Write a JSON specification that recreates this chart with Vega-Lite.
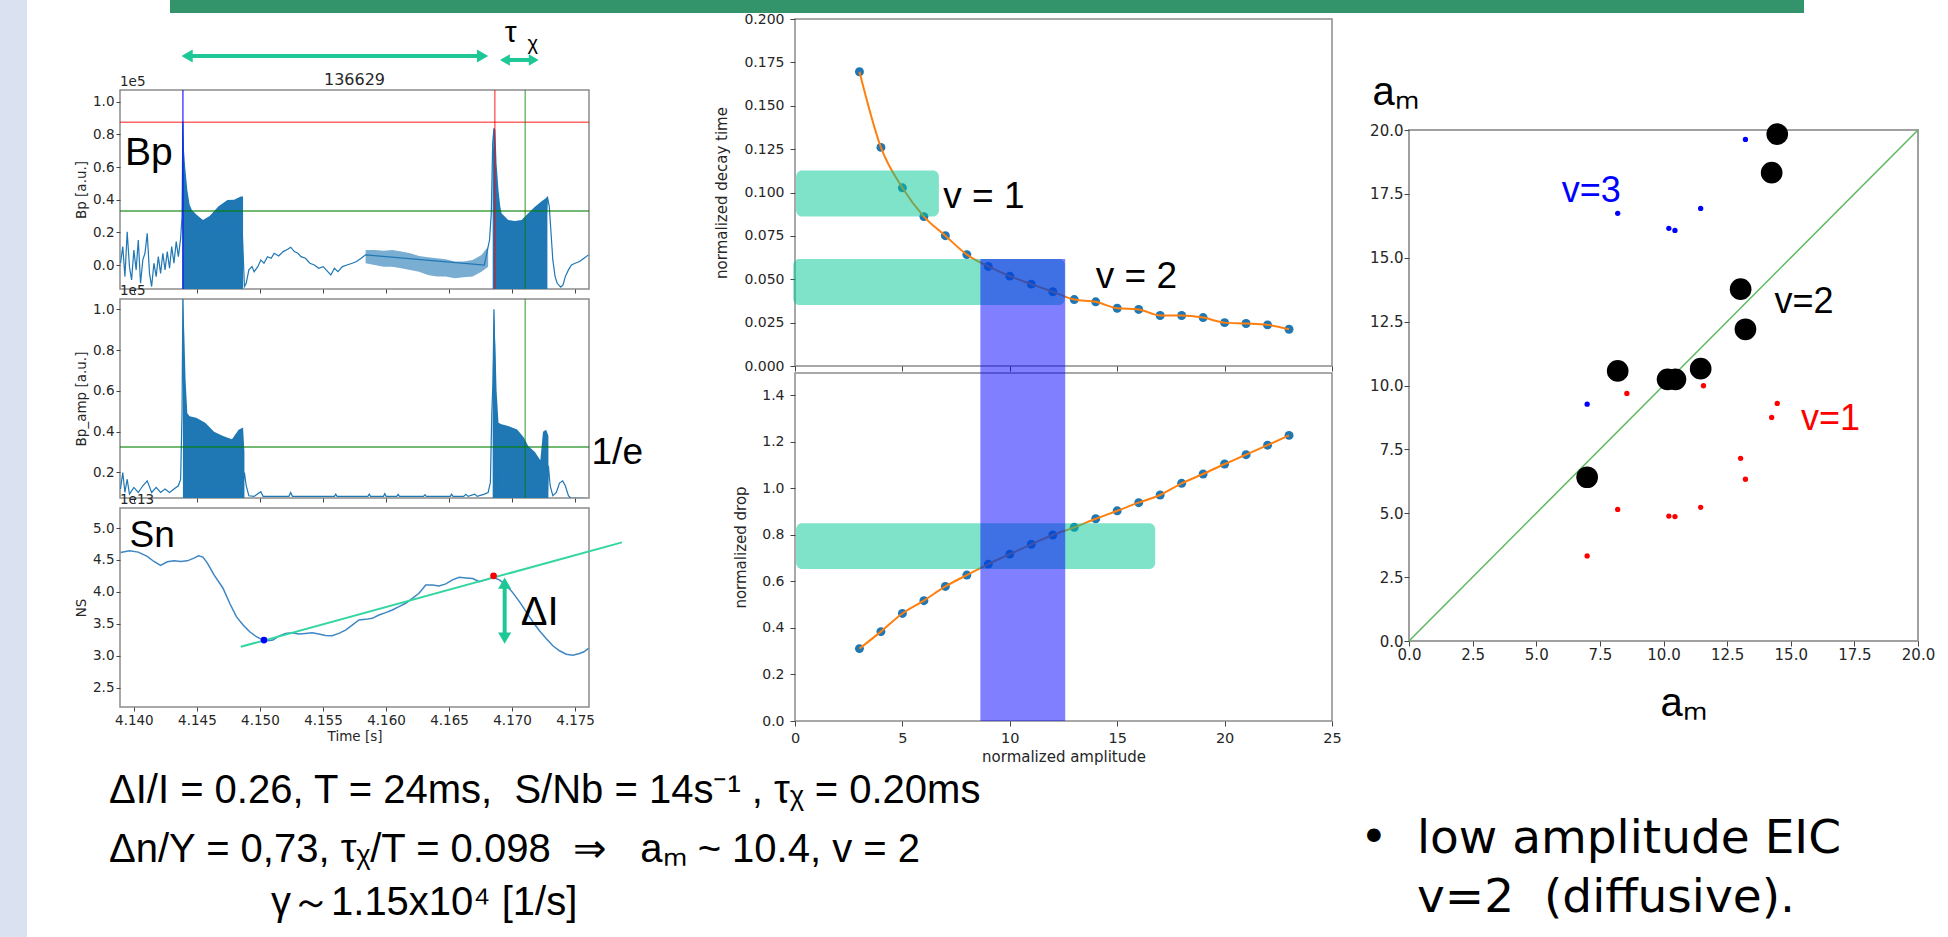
{
"$schema": "https://vega.github.io/schema/vega-lite/v6.json",
"padding": 0,
"background": "#ffffff",
"bounds": "flush",
"spacing": 0,
"config": {
  "view": {"stroke": null},
  "font": "DejaVu Sans",
  "axis": {"grid": false, "domain": false, "labelOverlap": false, "labelFlush": false, "labelFont": "DejaVu Sans", "titleFont": "DejaVu Sans", "labelColor": "#262626", "titleColor": "#262626", "tickColor": "#444444", "titleFontWeight": "normal", "labelFontSize": 13.5, "titleFontSize": 13.5, "tickSize": 4, "labelPadding": 2, "titlePadding": 4}
},
"datasets": {
  "bp_line": [
    {"t":4.13894,"v":0.011},{"t":4.13912,"v":0.113},{"t":4.13929,"v":-0.071},{"t":4.13947,"v":0.204},{"t":4.13965,"v":-0.010},{"t":4.13982,"v":-0.091},{"t":4.14000,"v":0.092},{"t":4.14018,"v":-0.030},{"t":4.14035,"v":0.153},{"t":4.14053,"v":-0.112},{"t":4.14071,"v":0.031},{"t":4.14088,"v":0.072},{"t":4.14106,"v":0.194},{"t":4.14124,"v":-0.051},{"t":4.14141,"v":-0.132},{"t":4.14159,"v":0.011},{"t":4.14177,"v":-0.071},{"t":4.14194,"v":0.051},{"t":4.14212,"v":-0.051},{"t":4.14230,"v":0.072},{"t":4.14247,"v":-0.030},{"t":4.14265,"v":0.082},{"t":4.14283,"v":-0.020},{"t":4.14300,"v":0.113},{"t":4.14318,"v":0.011},{"t":4.14336,"v":0.143},{"t":4.14353,"v":0.051},{"t":4.14371,"v":0.164},{"t":4.14382,"v":0.296},{"t":4.14389,"v":0.878},{"t":4.14400,"v":0.2},{"t":4.14860,"v":0.2},
    {"t":4.14877,"v":-0.132},{"t":4.14891,"v":-0.112},{"t":4.14912,"v":-0.030},{"t":4.14937,"v":-0.010},{"t":4.14954,"v":-0.041},{"t":4.14983,"v":-0.010},{"t":4.15007,"v":0.031},{"t":4.15032,"v":0.011},{"t":4.15060,"v":0.051},{"t":4.15089,"v":0.041},{"t":4.15113,"v":0.072},{"t":4.15149,"v":0.055},{"t":4.15184,"v":0.082},{"t":4.15220,"v":0.096},{"t":4.15244,"v":0.109},{"t":4.15273,"v":0.082},{"t":4.15301,"v":0.072},{"t":4.15326,"v":0.051},{"t":4.15361,"v":0.041},{"t":4.15396,"v":0.011},{"t":4.15432,"v":0.000},{"t":4.15467,"v":-0.020},{"t":4.15502,"v":-0.010},{"t":4.15538,"v":-0.041},{"t":4.15562,"v":-0.061},{"t":4.15591,"v":-0.020},{"t":4.15619,"v":-0.041},{"t":4.15654,"v":-0.010},{"t":4.15690,"v":0.000},{"t":4.15732,"v":0.011},{"t":4.15767,"v":0.021},{"t":4.15803,"v":0.041},{"t":4.15838,"v":0.062},{"t":4.16780,"v":0.0},
    {"t":4.16821,"v":0.153},{"t":4.16835,"v":0.317},{"t":4.16846,"v":0.745},{"t":4.16856,"v":0.837},{"t":4.16880,"v":0.2},{"t":4.17265,"v":0.2},
    {"t":4.17280,"v":0.419},{"t":4.17295,"v":0.358},{"t":4.17309,"v":0.194},{"t":4.17323,"v":0.031},{"t":4.17341,"v":-0.071},{"t":4.17358,"v":-0.112},{"t":4.17386,"v":-0.136},{"t":4.17404,"v":-0.122},{"t":4.17422,"v":-0.071},{"t":4.17447,"v":-0.030},{"t":4.17471,"v":0.000},{"t":4.17500,"v":0.011},{"t":4.17535,"v":0.021},{"t":4.17570,"v":0.041},{"t":4.17606,"v":0.062}
  ],
  "bp_band": [
    {"seg":1,"t":4.14385,"v":0.878,"v2":-0.3},{"seg":1,"t":4.14396,"v":0.72,"v2":-0.3},{"seg":1,"t":4.14407,"v":0.60,"v2":-0.3},{"seg":1,"t":4.14424,"v":0.46,"v2":-0.3},{"seg":1,"t":4.14442,"v":0.37,"v2":-0.3},{"seg":1,"t":4.14460,"v":0.337,"v2":-0.3},{"seg":1,"t":4.14495,"v":0.31,"v2":-0.3},{"seg":1,"t":4.14548,"v":0.276,"v2":-0.3},{"seg":1,"t":4.14601,"v":0.30,"v2":-0.3},{"seg":1,"t":4.14672,"v":0.36,"v2":-0.3},{"seg":1,"t":4.14742,"v":0.398,"v2":-0.3},{"seg":1,"t":4.14795,"v":0.40,"v2":-0.3},{"seg":1,"t":4.14848,"v":0.419,"v2":-0.3},{"seg":1,"t":4.14866,"v":0.42,"v2":-0.3},
    {"seg":2,"t":4.15838,"v":0.092,"v2":0.011},{"seg":2,"t":4.15909,"v":0.092,"v2":0.000},{"seg":2,"t":4.15980,"v":0.088,"v2":-0.010},{"seg":2,"t":4.16050,"v":0.092,"v2":-0.010},{"seg":2,"t":4.16121,"v":0.082,"v2":-0.020},{"seg":2,"t":4.16192,"v":0.072,"v2":-0.030},{"seg":2,"t":4.16262,"v":0.055,"v2":-0.041},{"seg":2,"t":4.16333,"v":0.047,"v2":-0.061},{"seg":2,"t":4.16404,"v":0.041,"v2":-0.071},{"seg":2,"t":4.16474,"v":0.035,"v2":-0.071},{"seg":2,"t":4.16545,"v":0.021,"v2":-0.081},{"seg":2,"t":4.16616,"v":0.021,"v2":-0.075},{"seg":2,"t":4.16687,"v":0.031,"v2":-0.071},{"seg":2,"t":4.16757,"v":0.062,"v2":-0.041},{"seg":2,"t":4.16810,"v":0.113,"v2":-0.010},
    {"seg":3,"t":4.16846,"v":0.65,"v2":-0.3},{"seg":3,"t":4.16856,"v":0.84,"v2":-0.3},{"seg":3,"t":4.16867,"v":0.83,"v2":-0.3},{"seg":3,"t":4.16877,"v":0.62,"v2":-0.3},{"seg":3,"t":4.16892,"v":0.46,"v2":-0.3},{"seg":3,"t":4.16906,"v":0.36,"v2":-0.3},{"seg":3,"t":4.16916,"v":0.317,"v2":-0.3},{"seg":3,"t":4.16969,"v":0.276,"v2":-0.3},{"seg":3,"t":4.17022,"v":0.27,"v2":-0.3},{"seg":3,"t":4.17075,"v":0.276,"v2":-0.3},{"seg":3,"t":4.17128,"v":0.317,"v2":-0.3},{"seg":3,"t":4.17181,"v":0.357,"v2":-0.3},{"seg":3,"t":4.17234,"v":0.39,"v2":-0.3},{"seg":3,"t":4.17270,"v":0.41,"v2":-0.3},{"seg":3,"t":4.17280,"v":0.42,"v2":-0.3}
  ],
  "amp_line": [
    {"t":4.13894,"v":0.119},{"t":4.13912,"v":0.200},{"t":4.13929,"v":0.102},{"t":4.13947,"v":0.167},{"t":4.13965,"v":0.094},{"t":4.14000,"v":0.127},{"t":4.14035,"v":0.102},{"t":4.14071,"v":0.135},{"t":4.14106,"v":0.159},{"t":4.14141,"v":0.102},{"t":4.14177,"v":0.127},{"t":4.14212,"v":0.102},{"t":4.14247,"v":0.119},{"t":4.14283,"v":0.102},{"t":4.14318,"v":0.119},{"t":4.14353,"v":0.135},{"t":4.14371,"v":0.167},{"t":4.14382,"v":0.493},{"t":4.14389,"v":1.08},{"t":4.14400,"v":0.1},{"t":4.14860,"v":0.1},
    {"t":4.14877,"v":0.200},{"t":4.14891,"v":0.135},{"t":4.14912,"v":0.086},{"t":4.14954,"v":0.083},{"t":4.15007,"v":0.106},{"t":4.15025,"v":0.083},{"t":4.15230,"v":0.083},{"t":4.15244,"v":0.102},{"t":4.15258,"v":0.083},{"t":4.15591,"v":0.083},{"t":4.15601,"v":0.094},{"t":4.15612,"v":0.083},{"t":4.15856,"v":0.083},{"t":4.15867,"v":0.094},{"t":4.15877,"v":0.083},{"t":4.15980,"v":0.083},{"t":4.15990,"v":0.096},{"t":4.16001,"v":0.083},{"t":4.16086,"v":0.083},{"t":4.16096,"v":0.093},{"t":4.16107,"v":0.083},{"t":4.16298,"v":0.083},{"t":4.16309,"v":0.091},{"t":4.16319,"v":0.083},{"t":4.16510,"v":0.083},{"t":4.16520,"v":0.094},{"t":4.16531,"v":0.083},{"t":4.16616,"v":0.083},{"t":4.16633,"v":0.093},{"t":4.16651,"v":0.083},{"t":4.16704,"v":0.094},{"t":4.16722,"v":0.083},{"t":4.16775,"v":0.093},{"t":4.16810,"v":0.102},{"t":4.16828,"v":0.151},{"t":4.16839,"v":0.493},{"t":4.16849,"v":0.655},{"t":4.16856,"v":1.0},{"t":4.16880,"v":0.1},{"t":4.17280,"v":0.1},
    {"t":4.17288,"v":0.233},{"t":4.17302,"v":0.135},{"t":4.17323,"v":0.086},{"t":4.17351,"v":0.102},{"t":4.17376,"v":0.148},{"t":4.17401,"v":0.159},{"t":4.17422,"v":0.135},{"t":4.17447,"v":0.086},{"t":4.17464,"v":0.075},{"t":4.17606,"v":0.072}
  ],
  "amp_band": [
    {"seg":1,"t":4.14389,"v":1.08,"v2":0},{"seg":1,"t":4.14400,"v":0.88,"v2":0},{"seg":1,"t":4.14410,"v":0.655,"v2":0},{"seg":1,"t":4.14424,"v":0.49,"v2":0},{"seg":1,"t":4.14442,"v":0.475,"v2":0},{"seg":1,"t":4.14495,"v":0.468,"v2":0},{"seg":1,"t":4.14566,"v":0.444,"v2":0},{"seg":1,"t":4.14636,"v":0.40,"v2":0},{"seg":1,"t":4.14707,"v":0.379,"v2":0},{"seg":1,"t":4.14778,"v":0.363,"v2":0},{"seg":1,"t":4.14831,"v":0.41,"v2":0},{"seg":1,"t":4.14866,"v":0.42,"v2":0},{"seg":1,"t":4.14877,"v":0.30,"v2":0},
    {"seg":3,"t":4.16846,"v":0.67,"v2":0},{"seg":3,"t":4.16856,"v":1.0,"v2":0},{"seg":3,"t":4.16867,"v":0.83,"v2":0},{"seg":3,"t":4.16877,"v":0.60,"v2":0},{"seg":3,"t":4.16892,"v":0.444,"v2":0},{"seg":3,"t":4.16916,"v":0.436,"v2":0},{"seg":3,"t":4.16969,"v":0.428,"v2":0},{"seg":3,"t":4.17040,"v":0.411,"v2":0},{"seg":3,"t":4.17093,"v":0.371,"v2":0},{"seg":3,"t":4.17128,"v":0.33,"v2":0},{"seg":3,"t":4.17181,"v":0.30,"v2":0},{"seg":3,"t":4.17224,"v":0.26,"v2":0},{"seg":3,"t":4.17245,"v":0.40,"v2":0},{"seg":3,"t":4.17270,"v":0.41,"v2":0},{"seg":3,"t":4.17288,"v":0.38,"v2":0}
  ],
  "sn": [
    {"t":4.13894,"v":4.617},{"t":4.13965,"v":4.644},{"t":4.14035,"v":4.623},{"t":4.14106,"v":4.555},{"t":4.14159,"v":4.476},{"t":4.14212,"v":4.413},{"t":4.14265,"v":4.471},{"t":4.14318,"v":4.486},{"t":4.14371,"v":4.476},{"t":4.14424,"v":4.486},{"t":4.14477,"v":4.528},{"t":4.14513,"v":4.565},{"t":4.14548,"v":4.544},{"t":4.14583,"v":4.450},{"t":4.14636,"v":4.266},{"t":4.14707,"v":4.057},{"t":4.14760,"v":3.821},{"t":4.14813,"v":3.611},{"t":4.14866,"v":3.480},{"t":4.14919,"v":3.375},{"t":4.14972,"v":3.297},{"t":4.15025,"v":3.244},{"t":4.15060,"v":3.234},{"t":4.15103,"v":3.244},{"t":4.15149,"v":3.307},{"t":4.15202,"v":3.349},{"t":4.15255,"v":3.360},{"t":4.15308,"v":3.339},{"t":4.15361,"v":3.349},{"t":4.15414,"v":3.360},{"t":4.15467,"v":3.339},{"t":4.15520,"v":3.318},{"t":4.15573,"v":3.312},{"t":4.15626,"v":3.349},{"t":4.15679,"v":3.401},{"t":4.15732,"v":3.480},{"t":4.15785,"v":3.559},{"t":4.15838,"v":3.569},{"t":4.15891,"v":3.585},{"t":4.15944,"v":3.637},{"t":4.15997,"v":3.674},{"t":4.16050,"v":3.716},{"t":4.16103,"v":3.768},{"t":4.16156,"v":3.821},{"t":4.16209,"v":3.899},{"t":4.16262,"v":3.978},{"t":4.16315,"v":4.109},{"t":4.16368,"v":4.109},{"t":4.16421,"v":4.093},{"t":4.16474,"v":4.125},{"t":4.16527,"v":4.188},{"t":4.16581,"v":4.230},{"t":4.16634,"v":4.219},{"t":4.16687,"v":4.209},{"t":4.16740,"v":4.161},{"t":4.16793,"v":4.188},{"t":4.16846,"v":4.230},{"t":4.16899,"v":4.188},{"t":4.16952,"v":4.109},{"t":4.17005,"v":3.988},{"t":4.17058,"v":3.847},{"t":4.17111,"v":3.690},{"t":4.17164,"v":3.532},{"t":4.17217,"v":3.391},{"t":4.17270,"v":3.270},{"t":4.17323,"v":3.155},{"t":4.17376,"v":3.077},{"t":4.17429,"v":3.024},{"t":4.17482,"v":3.008},{"t":4.17535,"v":3.035},{"t":4.17570,"v":3.061},{"t":4.17606,"v":3.113}
  ],
  "decay": [
    {"a":3,"d":0.1696},{"a":4,"d":0.126},{"a":5,"d":0.1027},{"a":6,"d":0.0861},{"a":7,"d":0.0751},{"a":8,"d":0.0642},{"a":9,"d":0.0574},{"a":10,"d":0.0518},{"a":11,"d":0.0472},{"a":12,"d":0.0428},{"a":13,"d":0.0383},{"a":14,"d":0.0370},{"a":15,"d":0.0333},{"a":16,"d":0.0326},{"a":17,"d":0.0291},{"a":18,"d":0.0291},{"a":19,"d":0.0279},{"a":20,"d":0.0250},{"a":21,"d":0.0245},{"a":22,"d":0.0237},{"a":23,"d":0.0212}
  ],
  "drop": [
    {"a":3,"d":0.311},{"a":4,"d":0.384},{"a":5,"d":0.462},{"a":6,"d":0.517},{"a":7,"d":0.578},{"a":8,"d":0.627},{"a":9,"d":0.674},{"a":10,"d":0.717},{"a":11,"d":0.759},{"a":12,"d":0.799},{"a":13,"d":0.832},{"a":14,"d":0.869},{"a":15,"d":0.903},{"a":16,"d":0.938},{"a":17,"d":0.971},{"a":18,"d":1.021},{"a":19,"d":1.061},{"a":20,"d":1.104},{"a":21,"d":1.144},{"a":22,"d":1.185},{"a":23,"d":1.227}
  ],
  "scatter": [
    {"x":7.0,"y":6.41,"v":"v=2"},{"x":8.2,"y":10.57,"v":"v=2"},{"x":10.16,"y":10.24,"v":"v=2"},{"x":10.47,"y":10.24,"v":"v=2"},{"x":11.46,"y":10.66,"v":"v=2"},{"x":13.03,"y":13.77,"v":"v=2"},{"x":13.22,"y":12.2,"v":"v=2"},{"x":14.25,"y":18.33,"v":"v=2"},{"x":14.47,"y":19.84,"v":"v=2"},
    {"x":7.0,"y":9.27,"v":"v=3"},{"x":8.2,"y":16.74,"v":"v=3"},{"x":10.21,"y":16.15,"v":"v=3"},{"x":10.45,"y":16.07,"v":"v=3"},{"x":11.46,"y":16.93,"v":"v=3"},{"x":13.22,"y":19.63,"v":"v=3"},
    {"x":7.0,"y":3.33,"v":"v=1"},{"x":8.2,"y":5.15,"v":"v=1"},{"x":8.56,"y":9.69,"v":"v=1"},{"x":10.21,"y":4.89,"v":"v=1"},{"x":10.45,"y":4.87,"v":"v=1"},{"x":11.46,"y":5.23,"v":"v=1"},{"x":11.57,"y":9.99,"v":"v=1"},{"x":13.03,"y":7.15,"v":"v=1"},{"x":13.22,"y":6.33,"v":"v=1"},{"x":14.25,"y":8.75,"v":"v=1"},{"x":14.47,"y":9.3,"v":"v=1"}
  ]
},
"hconcat": [
  {"width": 27, "height": 937, "view": {"fill": "#dae2f2", "stroke": null}, "data": {"values": []}, "mark": "point", "encoding": {}},
  {"spacing": 0, "bounds": "flush", "vconcat": [
    {"spacing": 0, "bounds": "flush", "hconcat": [
      {"width": 143, "height": 13, "data": {"values": []}, "mark": "point", "encoding": {}},
      {"width": 1634, "height": 13, "view": {"fill": "#33936a", "stroke": null}, "data": {"values": []}, "mark": "point", "encoding": {}}
    ]},
    {"width": 1, "height": 13, "data": {"values": []}, "mark": "point", "encoding": {}},
    {"spacing": 0, "bounds": "flush", "hconcat": [
      {"width": 93, "height": 1, "data": {"values": []}, "mark": "point", "encoding": {}},
      {"spacing": 0, "bounds": "flush", "vconcat": [
        {"width": 469, "height": 77, "data": {"values": []}, "mark": "point", "encoding": {}},
        {"width": 469, "height": 199, "view": {"stroke": "#8c8c8c", "strokeWidth": 1.5},
         "layer": [
          {"data": {"name": "bp_band"}, "transform": [{"filter": "datum.seg != 2"}],
           "mark": {"type": "area", "color": "#1f77b4", "clip": true, "opacity": 1},
           "encoding": {
             "x": {"field": "t", "type": "quantitative", "scale": {"domain": [4.1389, 4.1761], "nice": false, "zero": false}, "axis": {"values": [4.14, 4.145, 4.15, 4.155, 4.16, 4.165, 4.17, 4.175], "tickCount": 20, "labels": false, "title": null, "labelOverlap": false}},
             "y": {"field": "v", "type": "quantitative", "scale": {"domain": [-0.147, 1.072], "nice": false, "zero": false}, "axis": {"values": [0, 0.2, 0.4, 0.6, 0.8, 1.0], "tickCount": 20, "format": ".1f", "title": "Bp [a.u.]", "labelOverlap": false}},
             "y2": {"field": "v2"},
             "detail": {"field": "seg"}
           }},
          {"data": {"name": "bp_band"}, "transform": [{"filter": "datum.seg == 2"}],
           "mark": {"type": "area", "color": "#1f77b4", "clip": true, "opacity": 0.6},
           "encoding": {"x": {"field": "t", "type": "quantitative"}, "y": {"field": "v", "type": "quantitative"}, "y2": {"field": "v2"}}},
          {"data": {"name": "bp_line"},
           "mark": {"type": "line", "color": "#1f77b4", "strokeWidth": 1.2, "clip": true},
           "encoding": {"x": {"field": "t", "type": "quantitative"}, "y": {"field": "v", "type": "quantitative"}}},
          {"data": {"values": [{}]}, "mark": {"type": "rule", "color": "#ff0000", "opacity": 0.6, "strokeWidth": 1.5}, "encoding": {"y": {"datum": 0.874}}},
          {"data": {"values": [{}]}, "mark": {"type": "rule", "color": "#008000", "opacity": 0.55, "strokeWidth": 2}, "encoding": {"y": {"datum": 0.331}}},
          {"data": {"values": [{}]}, "mark": {"type": "rule", "color": "#0000ff", "opacity": 0.7, "strokeWidth": 1.5}, "encoding": {"x": {"datum": 4.14389}}},
          {"data": {"values": [{}]}, "mark": {"type": "rule", "color": "#ff0000", "opacity": 0.6, "strokeWidth": 1.5}, "encoding": {"x": {"datum": 4.16863}}},
          {"data": {"values": [{}]}, "mark": {"type": "rule", "color": "#008000", "opacity": 0.55, "strokeWidth": 1.5}, "encoding": {"x": {"datum": 4.17104}}},
          {"data": {"values": [{}]}, "mark": {"type": "text", "text": "Bp", "font": "Liberation Sans", "fontSize": 39, "align": "left", "baseline": "alphabetic", "color": "#000000"}, "encoding": {"x": {"datum": 4.1393}, "y": {"datum": 0.613}}},
          {"data": {"values": [{}]}, "mark": {"type": "text", "text": "1e5", "font": "DejaVu Sans", "fontSize": 13.5, "align": "left", "baseline": "bottom", "dy": -1, "color": "#262626"}, "encoding": {"x": {"datum": 4.1389}, "y": {"datum": 1.072}}},
          {"data": {"values": [{}]}, "mark": {"type": "text", "text": "136629", "font": "DejaVu Sans", "fontSize": 16, "align": "center", "baseline": "bottom", "dy": -2, "color": "#262626"}, "encoding": {"x": {"datum": 4.1575}, "y": {"datum": 1.072}}},
          {"data": {"values": [{}]}, "mark": {"type": "rule", "color": "#1ec896", "strokeWidth": 4}, "encoding": {"x": {"datum": 4.14422}, "x2": {"datum": 4.16766}, "y": {"datum": 1.28}}},
          {"data": {"values": [{}]}, "mark": {"type": "point", "shape": "triangle-left", "filled": true, "opacity": 1, "color": "#1ec896", "size": 170}, "encoding": {"x": {"datum": 4.14422}, "y": {"datum": 1.28}}},
          {"data": {"values": [{}]}, "mark": {"type": "point", "shape": "triangle-right", "filled": true, "opacity": 1, "color": "#1ec896", "size": 170}, "encoding": {"x": {"datum": 4.16766}, "y": {"datum": 1.28}}},
          {"data": {"values": [{}]}, "mark": {"type": "rule", "color": "#1ec896", "strokeWidth": 4}, "encoding": {"x": {"datum": 4.16943}, "x2": {"datum": 4.17172}, "y": {"datum": 1.256}}},
          {"data": {"values": [{}]}, "mark": {"type": "point", "shape": "triangle-left", "filled": true, "opacity": 1, "color": "#1ec896", "size": 130}, "encoding": {"x": {"datum": 4.16943}, "y": {"datum": 1.256}}},
          {"data": {"values": [{}]}, "mark": {"type": "point", "shape": "triangle-right", "filled": true, "opacity": 1, "color": "#1ec896", "size": 130}, "encoding": {"x": {"datum": 4.17172}, "y": {"datum": 1.256}}},
          {"data": {"values": [{}]}, "mark": {"type": "text", "text": "τ", "font": "Liberation Sans", "fontSize": 30, "align": "left", "baseline": "alphabetic", "color": "#000000"}, "encoding": {"x": {"datum": 4.16941}, "y": {"datum": 1.368}}},
          {"data": {"values": [{}]}, "mark": {"type": "text", "text": "χ", "font": "Liberation Sans", "fontSize": 20, "align": "left", "baseline": "alphabetic", "color": "#000000"}, "encoding": {"x": {"datum": 4.17122}, "y": {"datum": 1.317}}}
         ]},
        {"width": 469, "height": 10, "data": {"values": []}, "mark": "point", "encoding": {}},
        {"width": 469, "height": 199, "view": {"stroke": "#8c8c8c", "strokeWidth": 1.5},
         "layer": [
          {"data": {"name": "amp_band"},
           "mark": {"type": "area", "color": "#1f77b4", "clip": true, "opacity": 1},
           "encoding": {
             "x": {"field": "t", "type": "quantitative", "scale": {"domain": [4.1389, 4.1761], "nice": false, "zero": false}, "axis": {"values": [4.14, 4.145, 4.15, 4.155, 4.16, 4.165, 4.17, 4.175], "tickCount": 20, "labels": false, "title": null, "labelOverlap": false}},
             "y": {"field": "v", "type": "quantitative", "scale": {"domain": [0.075, 1.05], "nice": false, "zero": false}, "axis": {"values": [0.2, 0.4, 0.6, 0.8, 1.0], "tickCount": 20, "format": ".1f", "title": "Bp_amp [a.u.]", "labelOverlap": false}},
             "y2": {"field": "v2"},
             "detail": {"field": "seg"}
           }},
          {"data": {"name": "amp_line"},
           "mark": {"type": "line", "color": "#1f77b4", "strokeWidth": 1.2, "clip": true},
           "encoding": {"x": {"field": "t", "type": "quantitative"}, "y": {"field": "v", "type": "quantitative"}}},
          {"data": {"values": [{}]}, "mark": {"type": "rule", "color": "#008000", "opacity": 0.55, "strokeWidth": 2}, "encoding": {"y": {"datum": 0.325}}},
          {"data": {"values": [{}]}, "mark": {"type": "rule", "color": "#008000", "opacity": 0.55, "strokeWidth": 1.5}, "encoding": {"x": {"datum": 4.17104}}},
          {"data": {"values": [{}]}, "mark": {"type": "text", "text": "1e5", "font": "DejaVu Sans", "fontSize": 13.5, "align": "left", "baseline": "bottom", "dy": -1, "color": "#262626"}, "encoding": {"x": {"datum": 4.1389}, "y": {"datum": 1.05}}},
          {"data": {"values": [{}]}, "mark": {"type": "text", "text": "1/e", "font": "Liberation Sans", "fontSize": 37, "align": "left", "baseline": "alphabetic", "color": "#000000"}, "encoding": {"x": {"datum": 4.1763}, "y": {"datum": 0.24}}}
         ]},
        {"width": 469, "height": 10, "data": {"values": []}, "mark": "point", "encoding": {}},
        {"width": 469, "height": 199, "view": {"stroke": "#8c8c8c", "strokeWidth": 1.5},
         "layer": [
          {"data": {"name": "sn"},
           "mark": {"type": "line", "color": "#3f86c4", "strokeWidth": 1.5, "clip": true},
           "encoding": {
             "x": {"field": "t", "type": "quantitative", "scale": {"domain": [4.1389, 4.1761], "nice": false, "zero": false}, "axis": {"values": [4.14, 4.145, 4.15, 4.155, 4.16, 4.165, 4.17, 4.175], "tickCount": 20, "format": ".3f", "title": "Time [s]", "titlePadding": 3, "labelOverlap": false}},
             "y": {"field": "v", "type": "quantitative", "scale": {"domain": [2.196, 5.314], "nice": false, "zero": false}, "axis": {"values": [2.5, 3.0, 3.5, 4.0, 4.5, 5.0], "tickCount": 20, "format": ".1f", "title": "NS", "labelOverlap": false}}
           }},
          {"data": {"values": [{}]}, "mark": {"type": "rule", "color": "#33d6a0", "strokeWidth": 2}, "encoding": {"x": {"datum": 4.14848}, "x2": {"datum": 4.17871}, "y": {"datum": 3.139}, "y2": {"datum": 4.775}}},
          {"data": {"values": [{}]}, "mark": {"type": "point", "filled": true, "opacity": 1, "color": "#0000ff", "size": 45}, "encoding": {"x": {"datum": 4.15032}, "y": {"datum": 3.244}}},
          {"data": {"values": [{}]}, "mark": {"type": "point", "filled": true, "opacity": 1, "color": "#ff0000", "size": 45}, "encoding": {"x": {"datum": 4.16853}, "y": {"datum": 4.251}}},
          {"data": {"values": [{}]}, "mark": {"type": "rule", "color": "#1ec896", "strokeWidth": 4}, "encoding": {"x": {"datum": 4.16941}, "y": {"datum": 3.275}, "y2": {"datum": 4.136}}},
          {"data": {"values": [{}]}, "mark": {"type": "point", "shape": "triangle-up", "filled": true, "opacity": 1, "color": "#1ec896", "size": 170}, "encoding": {"x": {"datum": 4.16941}, "y": {"datum": 4.136}}},
          {"data": {"values": [{}]}, "mark": {"type": "point", "shape": "triangle-down", "filled": true, "opacity": 1, "color": "#1ec896", "size": 170}, "encoding": {"x": {"datum": 4.16941}, "y": {"datum": 3.275}}},
          {"data": {"values": [{}]}, "mark": {"type": "text", "text": "ΔI", "font": "Liberation Sans", "fontSize": 40, "align": "left", "baseline": "alphabetic", "color": "#000000"}, "encoding": {"x": {"datum": 4.17068}, "y": {"datum": 3.48}}},
          {"data": {"values": [{}]}, "mark": {"type": "text", "text": "Sn", "font": "Liberation Sans", "fontSize": 37, "align": "left", "baseline": "alphabetic", "color": "#000000"}, "encoding": {"x": {"datum": 4.13965}, "y": {"datum": 4.71}}},
          {"data": {"values": [{}]}, "mark": {"type": "text", "text": "1e13", "font": "DejaVu Sans", "fontSize": 13.5, "align": "left", "baseline": "bottom", "dy": -1, "color": "#262626"}, "encoding": {"x": {"datum": 4.1389}, "y": {"datum": 5.314}}}
         ]},
        {"width": 469, "height": 230, "data": {"values": [{}]},
         "layer": [
          {"mark": {"type": "text", "text": "ΔI/I = 0.26, T = 24ms,\u00a0\u00a0S/Nb = 14s⁻¹ , τᵪ = 0.20ms", "font": "Liberation Sans", "fontSize": 40, "align": "left", "baseline": "alphabetic", "color": "#000000"},
           "encoding": {"x": {"datum": -0.0235, "scale": {"domain": [0, 1]}, "axis": null}, "y": {"datum": 0.417, "scale": {"domain": [0, 1], "reverse": true}, "axis": null}}},
          {"mark": {"type": "text", "text": "Δn/Y = 0,73, τᵪ/T = 0.098\u00a0\u00a0⇒\u00a0\u00a0\u00a0aₘ ~ 10.4, v = 2", "font": "Liberation Sans", "fontSize": 40, "align": "left", "baseline": "alphabetic", "color": "#000000"},
           "encoding": {"x": {"datum": -0.0235, "scale": {"domain": [0, 1]}, "axis": null}, "y": {"datum": 0.674, "scale": {"domain": [0, 1], "reverse": true}, "axis": null}}},
          {"mark": {"type": "text", "text": "γ～1.15x10⁴ [1/s]", "font": "Liberation Sans", "fontSize": 40, "align": "left", "baseline": "alphabetic", "color": "#000000"},
           "encoding": {"x": {"datum": 0.322, "scale": {"domain": [0, 1]}, "axis": null}, "y": {"datum": 0.904, "scale": {"domain": [0, 1], "reverse": true}, "axis": null}}}
         ]}
      ]},
      {"width": 675, "height": 1, "data": {"values": []}, "mark": "point", "encoding": {}},
      {"spacing": 0, "bounds": "flush", "vconcat": [
        {"width": 537, "height": 6, "data": {"values": []}, "mark": "point", "encoding": {}},
        {"width": 537, "height": 347, "view": {"stroke": "#8c8c8c", "strokeWidth": 1.5},
         "layer": [
          {"data": {"name": "decay"},
           "mark": {"type": "point", "filled": true, "opacity": 1, "color": "#1f77b4", "size": 80},
           "encoding": {
             "x": {"field": "a", "type": "quantitative", "scale": {"domain": [0, 25], "nice": false, "zero": false}, "axis": {"values": [0, 5, 10, 15, 20, 25], "tickCount": 20, "labels": false, "title": null, "tickSize": 5, "labelOverlap": false}},
             "y": {"field": "d", "type": "quantitative", "scale": {"domain": [0, 0.2], "nice": false, "zero": false}, "axis": {"values": [0, 0.025, 0.05, 0.075, 0.1, 0.125, 0.15, 0.175, 0.2], "tickCount": 20, "format": ".3f", "title": "normalized decay time", "labelFontSize": 14, "titleFontSize": 15, "tickSize": 5, "labelPadding": 6, "titlePadding": 14, "labelOverlap": false}}
           }},
          {"data": {"name": "decay"},
           "mark": {"type": "line", "color": "#ff7f0e", "strokeWidth": 2, "interpolate": "monotone"},
           "encoding": {"x": {"field": "a", "type": "quantitative"}, "y": {"field": "d", "type": "quantitative"}}},
          {"data": {"values": [{}]}, "mark": {"type": "rect", "color": "#00c896", "opacity": 0.5, "cornerRadius": 6}, "encoding": {"x": {"datum": 0.05}, "x2": {"datum": 6.7}, "y": {"datum": 0.0861}, "y2": {"datum": 0.1127}}},
          {"data": {"values": [{}]}, "mark": {"type": "rect", "color": "#00c896", "opacity": 0.5, "cornerRadius": 6}, "encoding": {"x": {"datum": -0.08}, "x2": {"datum": 12.56}, "y": {"datum": 0.0351}, "y2": {"datum": 0.0617}}},
          {"data": {"values": [{}]}, "mark": {"type": "rect", "color": "#0000ff", "opacity": 0.5}, "encoding": {"x": {"datum": 8.63}, "x2": {"datum": 12.58}, "y": {"datum": 0}, "y2": {"datum": 0.0617}}},
          {"data": {"values": [{}]}, "mark": {"type": "text", "text": "v = 1", "font": "Liberation Sans", "fontSize": 37, "align": "left", "baseline": "alphabetic", "color": "#000000"}, "encoding": {"x": {"datum": 6.9}, "y": {"datum": 0.091}}},
          {"data": {"values": [{}]}, "mark": {"type": "text", "text": "v = 2", "font": "Liberation Sans", "fontSize": 37, "align": "left", "baseline": "alphabetic", "color": "#000000"}, "encoding": {"x": {"datum": 14.0}, "y": {"datum": 0.045}}}
         ]},
        {"width": 537, "height": 7, "data": {"values": []}, "mark": "point", "encoding": {}},
        {"width": 537, "height": 348, "view": {"stroke": "#8c8c8c", "strokeWidth": 1.5},
         "layer": [
          {"data": {"name": "drop"},
           "mark": {"type": "point", "filled": true, "opacity": 1, "color": "#1f77b4", "size": 80},
           "encoding": {
             "x": {"field": "a", "type": "quantitative", "scale": {"domain": [0, 25], "nice": false, "zero": false}, "axis": {"values": [0, 5, 10, 15, 20, 25], "tickCount": 20, "title": "normalized amplitude", "labelFontSize": 14.5, "titleFontSize": 15, "tickSize": 5, "labelPadding": 5, "titlePadding": 5, "labelOverlap": false}},
             "y": {"field": "d", "type": "quantitative", "scale": {"domain": [0, 1.495], "nice": false, "zero": false}, "axis": {"values": [0, 0.2, 0.4, 0.6, 0.8, 1.0, 1.2, 1.4], "tickCount": 20, "format": ".1f", "title": "normalized drop", "labelFontSize": 14, "titleFontSize": 15, "tickSize": 5, "labelPadding": 6, "titlePadding": 13, "labelOverlap": false}}
           }},
          {"data": {"name": "drop"},
           "mark": {"type": "line", "color": "#ff7f0e", "strokeWidth": 2, "interpolate": "monotone"},
           "encoding": {"x": {"field": "a", "type": "quantitative"}, "y": {"field": "d", "type": "quantitative"}}},
          {"data": {"values": [{}]}, "mark": {"type": "rect", "color": "#00c896", "opacity": 0.5, "cornerRadius": 6}, "encoding": {"x": {"datum": 0.05}, "x2": {"datum": 16.77}, "y": {"datum": 0.653}, "y2": {"datum": 0.849}}},
          {"data": {"values": [{}]}, "mark": {"type": "rect", "color": "#0000ff", "opacity": 0.5}, "encoding": {"x": {"datum": 8.63}, "x2": {"datum": 12.58}, "y": {"datum": 0}, "y2": {"datum": 1.525}}}
         ]}
      ]},
      {"width": 614, "height": 1, "data": {"values": []}, "mark": "point", "encoding": {}},
      {"spacing": 0, "bounds": "flush", "vconcat": [
        {"width": 509, "height": 117, "data": {"values": []}, "mark": "point", "encoding": {}},
        {"width": 509, "height": 511, "view": {"stroke": "#a0a0a0", "strokeWidth": 2},
         "layer": [
          {"data": {"values": [{}]}, "mark": {"type": "rule", "color": "#5cb85c", "strokeWidth": 1.5},
           "encoding": {
             "x": {"datum": 0, "type": "quantitative", "scale": {"domain": [0, 20], "nice": false, "zero": false}, "axis": {"values": [0, 2.5, 5, 7.5, 10, 12.5, 15, 17.5, 20], "tickCount": 20, "format": ".1f", "labelFontSize": 15, "tickSize": 5, "labelPadding": 1, "labelOverlap": false, "title": "aₘ", "titleFont": "Liberation Sans", "titleFontSize": 40, "titleColor": "#000000", "titleX": 274, "titleY": 74, "titleAlign": "center", "titleBaseline": "alphabetic"}},
             "x2": {"datum": 20},
             "y": {"datum": 0, "type": "quantitative", "scale": {"domain": [0, 20], "nice": false, "zero": false}, "axis": {"values": [0, 2.5, 5, 7.5, 10, 12.5, 15, 17.5, 20], "tickCount": 20, "format": ".1f", "labelFontSize": 15, "tickSize": 5, "labelPadding": 1, "labelOverlap": false, "title": "aₘ", "titleFont": "Liberation Sans", "titleFontSize": 40, "titleColor": "#000000", "titleAngle": 0, "titleX": -37, "titleY": -26, "titleAlign": "left", "titleBaseline": "alphabetic"}},
             "y2": {"datum": 20}
           }},
          {"data": {"name": "scatter"}, "transform": [{"filter": "datum.v == 'v=1'"}],
           "mark": {"type": "point", "filled": true, "opacity": 1, "color": "#ff0000", "size": 28},
           "encoding": {"x": {"field": "x", "type": "quantitative"}, "y": {"field": "y", "type": "quantitative"}}},
          {"data": {"name": "scatter"}, "transform": [{"filter": "datum.v == 'v=3'"}],
           "mark": {"type": "point", "filled": true, "opacity": 1, "color": "#0000ff", "size": 28},
           "encoding": {"x": {"field": "x", "type": "quantitative"}, "y": {"field": "y", "type": "quantitative"}}},
          {"data": {"name": "scatter"}, "transform": [{"filter": "datum.v == 'v=2'"}],
           "mark": {"type": "point", "filled": true, "opacity": 1, "color": "#000000", "size": 470},
           "encoding": {"x": {"field": "x", "type": "quantitative"}, "y": {"field": "y", "type": "quantitative"}}},
          {"data": {"values": [{}]}, "mark": {"type": "text", "text": "v=3", "font": "Liberation Sans", "fontSize": 36, "align": "left", "baseline": "alphabetic", "color": "#0000ff"}, "encoding": {"x": {"datum": 6.0}, "y": {"datum": 17.2}}},
          {"data": {"values": [{}]}, "mark": {"type": "text", "text": "v=2", "font": "Liberation Sans", "fontSize": 36, "align": "left", "baseline": "alphabetic", "color": "#000000"}, "encoding": {"x": {"datum": 14.36}, "y": {"datum": 12.84}}},
          {"data": {"values": [{}]}, "mark": {"type": "text", "text": "v=1", "font": "Liberation Sans", "fontSize": 36, "align": "left", "baseline": "alphabetic", "color": "#ff0000"}, "encoding": {"x": {"datum": 15.4}, "y": {"datum": 8.24}}}
         ]},
        {"width": 509, "height": 296, "data": {"values": [{}]},
         "layer": [
          {"mark": {"type": "text", "text": "•", "font": "DejaVu Sans", "fontSize": 47, "align": "center", "baseline": "alphabetic", "color": "#000000"},
           "encoding": {"x": {"datum": -0.0688, "scale": {"domain": [0, 1]}, "axis": null}, "y": {"datum": 0.716, "scale": {"domain": [0, 1], "reverse": true}, "axis": null}}},
          {"mark": {"type": "text", "text": "low amplitude EIC", "font": "DejaVu Sans", "fontSize": 47, "align": "left", "baseline": "alphabetic", "color": "#000000"},
           "encoding": {"x": {"datum": 0.0157, "scale": {"domain": [0, 1]}, "axis": null}, "y": {"datum": 0.716, "scale": {"domain": [0, 1], "reverse": true}, "axis": null}}},
          {"mark": {"type": "text", "text": "v=2\u00a0\u00a0(diffusive).", "font": "DejaVu Sans", "fontSize": 47, "align": "left", "baseline": "alphabetic", "color": "#000000"},
           "encoding": {"x": {"datum": 0.0157, "scale": {"domain": [0, 1]}, "axis": null}, "y": {"datum": 0.916, "scale": {"domain": [0, 1], "reverse": true}, "axis": null}}}
         ]}
      ]}
    ]}
  ]}
]
}
